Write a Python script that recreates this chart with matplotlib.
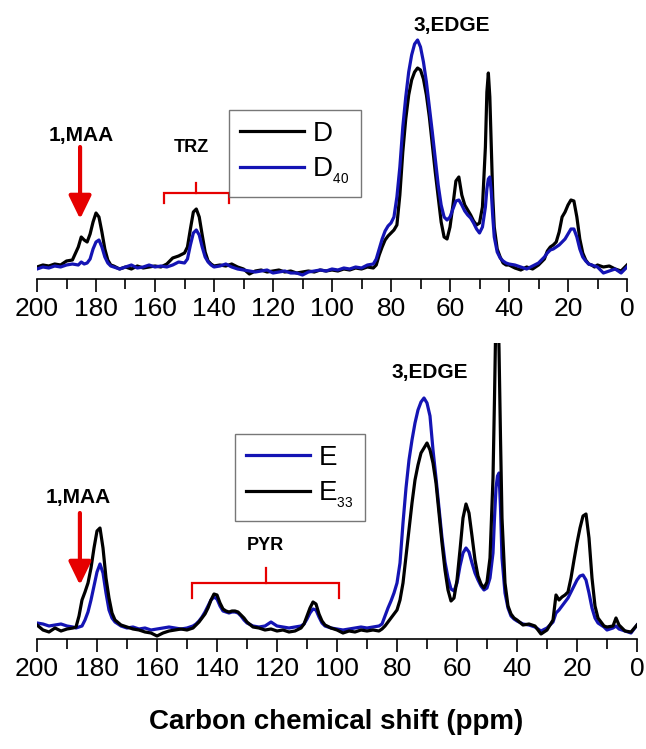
import matplotlib
matplotlib.use("Agg")
import matplotlib.pyplot as plt
import numpy as np

plt.rcParams['font.family'] = ['Liberation Sans', 'DejaVu Sans']
plt.rcParams['mathtext.fontset'] = 'custom'
plt.rcParams['mathtext.rm'] = 'Liberation Sans'
plt.rcParams['mathtext.default'] = 'regular'

# ================================
# Dados (intensidade em unidades arbitrárias)
# ================================
ppm_top = [200, 198, 196, 194, 192, 190, 188, 186, 185, 184,
           183, 182, 181, 180, 179, 178, 177, 176, 175, 174,
           172, 170, 168, 166, 164, 162, 160, 158, 156, 154,
           152, 150, 149, 148, 147, 146, 145, 144, 143, 142,
           141, 140, 138, 136, 134, 132, 130, 128, 126, 124,
           122, 120, 118, 116, 114, 112, 110, 108, 106, 104,
           102, 100, 98, 96, 94, 92, 90, 88, 86, 85,
           84, 83, 82, 81, 80, 79, 78, 77, 76, 75,
           74, 73, 72, 71, 70, 69, 68, 67, 66, 65,
           64, 63, 62, 61, 60, 59, 58, 57, 56, 55,
           54, 53, 52, 51, 50, 49, 48, 47.5, 47, 46.5,
           46, 45.5, 45, 44, 43, 42, 41, 40, 38, 36,
           34, 32, 30, 28, 27, 26, 25, 24, 23, 22,
           21, 20, 19, 18, 17, 16, 15, 14, 13, 12,
           11, 10, 8, 6, 4, 2, 0]

d_top = [0, 2, 1, 3, 2, 6, 7, 20, 30, 27,
         25, 33, 45, 54, 50, 35, 18, 7, 2, 1,
         -2, 0, -2, 1, -1, 0, 1, 0, 3, 9,
         11, 14, 20, 38, 55, 58, 50, 32, 15, 6,
         3, 1, 2, 1, 3, 0, -2, -7, -4, -3,
         -5, -4, -3, -5, -4, -6, -5, -4, -5, -3,
         -4, -3, -4, -2, -3, -1, -2, 0, -1, 2,
         12, 20, 27, 31, 34, 37, 42, 72, 115, 148,
         172, 187, 195, 199, 197, 188, 172, 150, 122, 95,
         70, 45, 30, 28, 40, 62, 86, 90, 72, 62,
         57, 52, 46, 42, 44, 60, 120, 175, 194, 170,
         120, 70, 40, 18, 10, 4, 2, 2, -1, -3,
         0, -2, 2, 8, 16, 20, 22, 25, 35, 50,
         55, 62, 67, 66, 50, 28, 14, 7, 3, 2,
         0, 2, 0, 1, -2, -4, 2]

d40_top = [-2, 0, -1, 1, 0, 2, 3, 2, 5, 3,
           4, 8, 18, 25, 27, 20, 10, 4, 1, 0,
           -2, 0, 2, -1, 0, 2, 0, 1, 0, 2,
           5, 4, 8, 22, 34, 37, 32, 20, 10, 5,
           2, 0, 1, 3, 0, -2, -3, -4, -5, -4,
           -3, -6, -5, -4, -6, -6, -8, -5, -4, -3,
           -4, -2, -3, -1, -2, 0, -1, 2, 3, 8,
           18, 28, 36, 41, 44, 50, 70, 100, 140, 170,
           195, 212, 223, 227, 220, 205, 185, 160, 135, 108,
           82, 62, 50, 47, 50, 58, 66, 67, 62, 56,
           52, 49, 44, 38, 34, 40, 60, 78, 88, 90,
           75, 50, 30, 15, 9, 6, 4, 3, 2, 0,
           -2, 1, 4, 10, 14, 17, 18, 20, 22, 25,
           28, 33, 38, 38, 30, 18, 10, 6, 3, 2,
           1, 0, -6, -4, -2, -6, 0]

ppm_bot = [200, 198, 196, 194, 192, 190, 188, 187, 186, 185,
           184, 183, 182, 181, 180, 179, 178, 177, 176, 175,
           174, 172, 170, 168, 166, 164, 162, 160, 158, 156,
           154, 152, 150, 149, 148, 147, 146, 145, 144, 143,
           142, 141, 140, 139, 138, 137, 136, 135, 134, 133,
           132, 131, 130, 128, 126, 124, 122, 120, 118, 116,
           114, 112, 111, 110, 109, 108, 107, 106, 105, 104,
           102, 100, 98, 96, 94, 92, 90, 88, 86, 85,
           84, 83, 82, 81, 80, 79, 78, 77, 76, 75,
           74, 73, 72, 71, 70, 69, 68, 67, 66, 65,
           64, 63, 62, 61, 60, 59, 58, 57, 56, 55,
           54, 53, 52, 51, 50, 49, 48, 47.5, 47, 46.5,
           46, 45.5, 45, 44, 43, 42, 41, 40, 38, 36,
           34, 32, 30, 28, 27, 26, 25, 24, 23, 22,
           21, 20, 19, 18, 17, 16, 15, 14, 13, 12,
           11, 10, 8, 7, 6, 4, 2, 0]

e33_bot = [3, -2, -4, 0, -3, -1, 0, 1, 12, 28,
           36, 45, 60, 80, 97, 100, 80, 50, 30, 15,
           8, 3, 1, -1, -2, -4, -5, -8, -5, -3,
           -2, -1, -2, -1, 0, 3, 6, 10, 14, 20,
           28, 34, 33, 25, 19, 17, 16, 17, 17, 16,
           13, 10, 6, 1, 0, -2, -1, -3, -2, -4,
           -3, 0, 4, 12, 20, 26, 24, 14, 7, 3,
           0, -2, -5, -3, -4, -2, -3, -2, -3, -1,
           2, 6, 10, 14, 18, 28, 45, 72, 100, 125,
           148, 163, 175, 180, 185, 178, 165, 145, 115, 85,
           58, 38, 27, 30, 48, 78, 110, 124, 115, 92,
           68, 52, 44, 40, 46, 70, 150, 230, 320, 340,
           280, 190, 110, 45, 22, 14, 10, 8, 3, 4,
           2, -6, -2, 8, 33, 28, 31, 33, 36, 50,
           68, 85, 100, 112, 114, 90, 50, 22, 10, 6,
           2, 1, 2, 10, 3, -3, -4, 3]

e_bot = [5, 4, 2, 3, 4, 2, 1, 0, 1, 2,
         8, 16, 28, 42, 56, 64, 55, 35, 18, 10,
         6, 2, 0, 1, -1, 0, -2, -1, 0, 1,
         0, -1, 0, 1, 2, 4, 7, 11, 16, 22,
         28, 31, 29, 22, 17, 16, 15, 16, 16, 15,
         12, 8, 5, 2, 1, 2, 6, 2, 1, 0,
         1, 2, 4, 9, 15, 19, 18, 11, 5, 2,
         0, -1, -2, -1, 0, 1, 0, 1, 2, 4,
         12, 20, 27, 35, 45, 65, 105, 140, 168, 188,
         205, 218, 226, 230, 225, 212, 178, 150, 120, 90,
         66, 50, 39, 37, 45, 62, 75, 80, 76, 65,
         55, 48, 42, 38, 40, 50, 75, 110, 140, 152,
         155, 120, 70, 35, 20, 12, 9, 7, 4, 3,
         1, -3, 0, 6, 15, 18, 22, 26, 30, 36,
         42, 48, 52, 53, 48, 35, 20, 10, 5, 3,
         1, -2, 0, 2, -1, -3, -5, 3]

BLACK = 'black'
BLUE = '#1414b4'
RED = '#e60000'
W, H = 646, 749


def style_axis(ax, ymin, ymax):
    ax.set_xlim(200, 0)
    ax.set_ylim(ymin, ymax)
    for s in ['top', 'left', 'right']:
        ax.spines[s].set_visible(False)
    ax.spines['bottom'].set_linewidth(1.2)
    ax.set_yticks([])
    ax.set_xticks(np.arange(0, 201, 20))
    ax.set_xticks(np.arange(0, 201, 10), minor=True)
    ax.tick_params(axis='x', which='major', length=9, width=1.2,
                   direction='out', labelsize=19, pad=4)
    ax.tick_params(axis='x', which='minor', length=7, width=1.2, direction='out')
    ax.patch.set_alpha(0)


def bracket(ax, x1, x2, y, leg, tip):
    xm = (x1 + x2) / 2
    ax.plot([x1, x1, x2, x2], [y - leg, y, y, y - leg], color=RED, lw=1.6,
            solid_joinstyle='miter', clip_on=False)
    ax.plot([xm, xm], [y, y + tip], color=RED, lw=1.6, clip_on=False)


def red_arrow(ax, x, y_tail, y_tip):
    ax.annotate('', xy=(x, y_tip), xytext=(x, y_tail),
                arrowprops=dict(arrowstyle='-|>,head_width=0.34,head_length=0.7',
                                color=RED, lw=3, mutation_scale=20,
                                shrinkA=0, shrinkB=0))


def add_legend(ax, handles, labels, x0, y0):
    leg = ax.legend(handles=handles, labels=labels, loc='upper left',
                    bbox_to_anchor=(x0 / W, 1 - y0 / H), bbox_transform=fig.transFigure,
                    fontsize=20, fancybox=False, edgecolor='#555555',
                    handlelength=2.3, handletextpad=0.3, labelspacing=0.3,
                    borderpad=0.4, borderaxespad=0)
    leg.get_frame().set_linewidth(1.0)
    return leg


fig = plt.figure(figsize=(W / 100, H / 100), dpi=100)

# ---- painel superior ----
ax1 = fig.add_axes([37 / W, 1 - 279 / H, 590 / W, (279 - 20) / H])
style_axis(ax1, -12, 247)
l_d, = ax1.plot(ppm_top, d_top, color=BLACK, lw=2.3)
l_d40, = ax1.plot(ppm_top, d40_top, color=BLUE, lw=2.3)
add_legend(ax1, [l_d, l_d40], ['D', r'D$_{_{40}}$'], 229, 110)

ax1.text(185, 132, '1,MAA', ha='center', va='center', fontsize=15, fontweight='bold')
red_arrow(ax1, 185.4, 120, 48)
ax1.text(147.6, 119, 'TRZ', ha='center', va='center', fontsize=13, fontweight='bold')
bracket(ax1, 157, 135, 74, 10, 10)
ax1.text(59.5, 242, '3,EDGE', ha='center', va='center', fontsize=15, fontweight='bold')

# ---- painel inferior ----
ax2 = fig.add_axes([37 / W, 1 - 639 / H, 600 / W, (639 - 343) / H])
style_axis(ax2, -11, 285)
l_e, = ax2.plot(ppm_bot, e_bot, color=BLUE, lw=2.3)
l_e33, = ax2.plot(ppm_bot, e33_bot, color=BLACK, lw=2.3)
add_legend(ax2, [l_e, l_e33], ['E', r'E$_{_{33}}$'], 235, 434)

ax2.text(186.2, 131, '1,MAA', ha='center', va='center', fontsize=15, fontweight='bold')
red_arrow(ax2, 185.7, 115, 43)
ax2.text(124, 82, 'PYR', ha='center', va='center', fontsize=13, fontweight='bold')
bracket(ax2, 148.4, 99.2, 44.7, 15, 15)
ax2.text(69, 255, '3,EDGE', ha='center', va='center', fontsize=15, fontweight='bold')

fig.text(336 / W, 1 - 722 / H, 'Carbon chemical shift (ppm)', ha='center', va='center',
         fontsize=20, fontweight='bold')

fig.savefig('out.png', dpi=100)
